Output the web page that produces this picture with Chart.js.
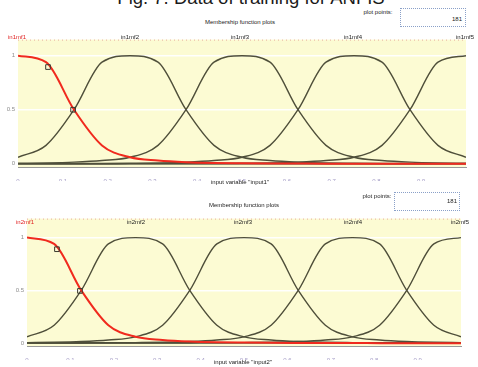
<!DOCTYPE html>
<html>
<head>
<meta charset="utf-8">
<script src="https://cdn.jsdelivr.net/npm/chart.js@4/dist/chart.umd.min.js"></script>
<style>
  html,body{margin:0;padding:0;background:#fff;}
  body{width:478px;height:367px;position:relative;overflow:hidden;font-family:"Liberation Sans",Arial,sans-serif;filter:blur(0.35px);}
  .t{position:absolute;white-space:nowrap;color:#222;font-size:6px;line-height:6px;transform:translate(-50%,-50%);}
  .box{position:absolute;background:#fff;border:1px dotted #8aa0c8;}
  canvas{position:absolute;}
  #title{position:absolute;left:12px;width:478px;top:-11px;text-align:center;font-size:18.5px;line-height:18px;color:#1a1a1a;}
</style>
</head>
<body>
<div id="title">Fig. 7. Data of training for ANFIS</div>

<canvas id="c1" width="478" height="148" style="left:0;top:33px"></canvas>
<canvas id="c2" width="478" height="148" style="left:0;top:212px"></canvas>

<div class="t" style="left:240px;top:22px">Membership function plots</div>
<div class="t" style="left:378px;top:12px">plot points:</div>
<div class="box" style="left:400px;top:8px;width:64px;height:17px"></div>
<div class="t" style="left:457px;top:19px">181</div>

<div class="t" style="left:17px;top:37px;color:#e02020">in1mf1</div>
<div class="t" style="left:130px;top:37px">in1mf2</div>
<div class="t" style="left:240px;top:37px">in1mf3</div>
<div class="t" style="left:353px;top:37px">in1mf4</div>
<div class="t" style="left:465px;top:37px">in1mf5</div>
<div class="t" style="left:240px;top:182px">input variable "input1"</div>

<div class="t" style="left:244px;top:205px">Membership function plots</div>
<div class="t" style="left:377px;top:196px">plot points:</div>
<div class="box" style="left:394px;top:192px;width:64px;height:17px"></div>
<div class="t" style="left:452px;top:201px">181</div>

<div class="t" style="left:25px;top:222px;color:#e02020">in2mf1</div>
<div class="t" style="left:136px;top:222px">in2mf2</div>
<div class="t" style="left:243px;top:222px">in2mf3</div>
<div class="t" style="left:353px;top:222px">in2mf4</div>
<div class="t" style="left:460px;top:222px">in2mf5</div>
<div class="t" style="left:243px;top:362px">input variable "input2"</div>

<script>
// ---- data ----
const xs = [0,0.0625,0.125,0.1875,0.25,0.3125,0.375,0.4375,0.5,0.5625,0.625,0.6875,0.75,0.8125,0.875,0.9375,1];
const xTicks = [0,0.1,0.2,0.3,0.4,0.5,0.6,0.7,0.8,0.9];
const yTicks = [0,0.5,1];

const in1mf1 = [1,0.94,0.5,0.17,0.06,0.03,0.015,0.008,0.005,0.003,0.002,0.001,0.001,0,0,0,0];
const in1mf2 = [0.06,0.17,0.5,0.94,1,0.94,0.5,0.17,0.06,0.03,0.015,0.008,0.005,0.003,0.002,0.001,0.001];
const in1mf3 = [0.005,0.008,0.015,0.03,0.06,0.17,0.5,0.94,1,0.94,0.5,0.17,0.06,0.03,0.015,0.008,0.005];
const in1mf4 = [0.001,0.001,0.002,0.003,0.005,0.008,0.015,0.03,0.06,0.17,0.5,0.94,1,0.94,0.5,0.17,0.06];
const in1mf5 = [0,0,0,0,0.001,0.001,0.002,0.003,0.005,0.008,0.015,0.03,0.06,0.17,0.5,0.94,1];
const in1markX = [0.067,0.123];
const in1markY = [0.895,0.5];

const in2mf1 = [1,0.94,0.5,0.17,0.06,0.03,0.015,0.008,0.005,0.003,0.002,0.001,0.001,0,0,0,0];
const in2mf2 = [0.06,0.17,0.5,0.94,1,0.94,0.5,0.17,0.06,0.03,0.015,0.008,0.005,0.003,0.002,0.001,0.001];
const in2mf3 = [0.005,0.008,0.015,0.03,0.06,0.17,0.5,0.94,1,0.94,0.5,0.17,0.06,0.03,0.015,0.008,0.005];
const in2mf4 = [0.001,0.001,0.002,0.003,0.005,0.008,0.015,0.03,0.06,0.17,0.5,0.94,1,0.94,0.5,0.17,0.06];
const in2mf5 = [0,0,0,0,0.001,0.001,0.002,0.003,0.005,0.008,0.015,0.03,0.06,0.17,0.5,0.94,1];
const in2markX = [0.069,0.122];
const in2markY = [0.89,0.495];

// ---- drawing ----
const bgPlugin = {
  id:'bg',
  beforeDraw(chart){
    const a = chart.chartArea, c = chart.ctx;
    c.save(); c.fillStyle = '#fcfbd3'; c.fillRect(a.left, a.top, a.right-a.left, a.bottom-a.top);
    c.strokeStyle = 'rgba(220,120,120,0.6)'; c.setLineDash([1,3]); c.lineWidth = 1;
    c.beginPath(); c.moveTo(a.left, a.top+0.5); c.lineTo(a.right, a.top+0.5); c.stroke();
    c.restore();
  }
};

function pts(ys){ return xs.map((x,i)=>({x:x, y:ys[i]})); }

function make(id, red, others, mx, my, yMin, yMax, leftW, rightPad){
  const line = (ys, col, w) => ({data:pts(ys), borderColor:col, borderWidth:w, pointRadius:0,
    cubicInterpolationMode:'monotone', fill:false});
  const datasets = [
    {data: mx.map((x,i)=>({x:x,y:my[i]})), showLine:false, pointStyle:'rect', pointRadius:3.3,
     borderColor:'#3a3a30', borderWidth:1, backgroundColor:'rgba(0,0,0,0)'},
    line(red, '#f02a1e', 2),
    ...others.map(o => line(o, '#4f4f3a', 1.4))
  ];
  new Chart(document.getElementById(id), {
    type:'line',
    data:{datasets},
    plugins:[bgPlugin],
    options:{
      responsive:false, animation:false, devicePixelRatio:1,
      layout:{padding:{left:0,right:rightPad,top:0,bottom:0}},
      plugins:{legend:{display:false}, tooltip:{enabled:false}},
      scales:{
        x:{type:'linear', min:0, max:1,
          afterBuildTicks: ax => { ax.ticks = xTicks.map(v=>({value:v})); },
          afterFit: ax => { ax.height = 14; },
          grid:{display:false},
          border:{display:true, color:'rgba(110,110,110,0.7)', dash:[1,2]},
          ticks:{font:{size:6, family:'Liberation Sans'}, color:'#a49cc6', padding:3, maxRotation:0,
                 callback: v => String(v)}},
        y:{type:'linear', min:yMin, max:yMax,
          afterBuildTicks: ax => { ax.ticks = yTicks.map(v=>({value:v})); },
          afterFit: ax => { ax.width = leftW; },
          grid:{drawTicks:false, color: c => c.tick && c.tick.value===0 ? 'rgba(50,50,40,0.9)' : 'rgba(255,255,255,0.95)', lineWidth:1.5},
          border:{display:false},
          ticks:{font:{size:6, family:'Liberation Sans'}, color:'#8c8c8c', padding:3,
                 callback: v => String(v)}}
      }
    }
  });
}

make('c1', in1mf1, [in1mf2,in1mf3,in1mf4,in1mf5], in1markX, in1markY, -0.03, 1.149, 18, 12);
make('c2', in2mf1, [in2mf2,in2mf3,in2mf4,in2mf5], in2markX, in2markY, -0.027, 1.18, 27, 17);
</script>
</body>
</html>
